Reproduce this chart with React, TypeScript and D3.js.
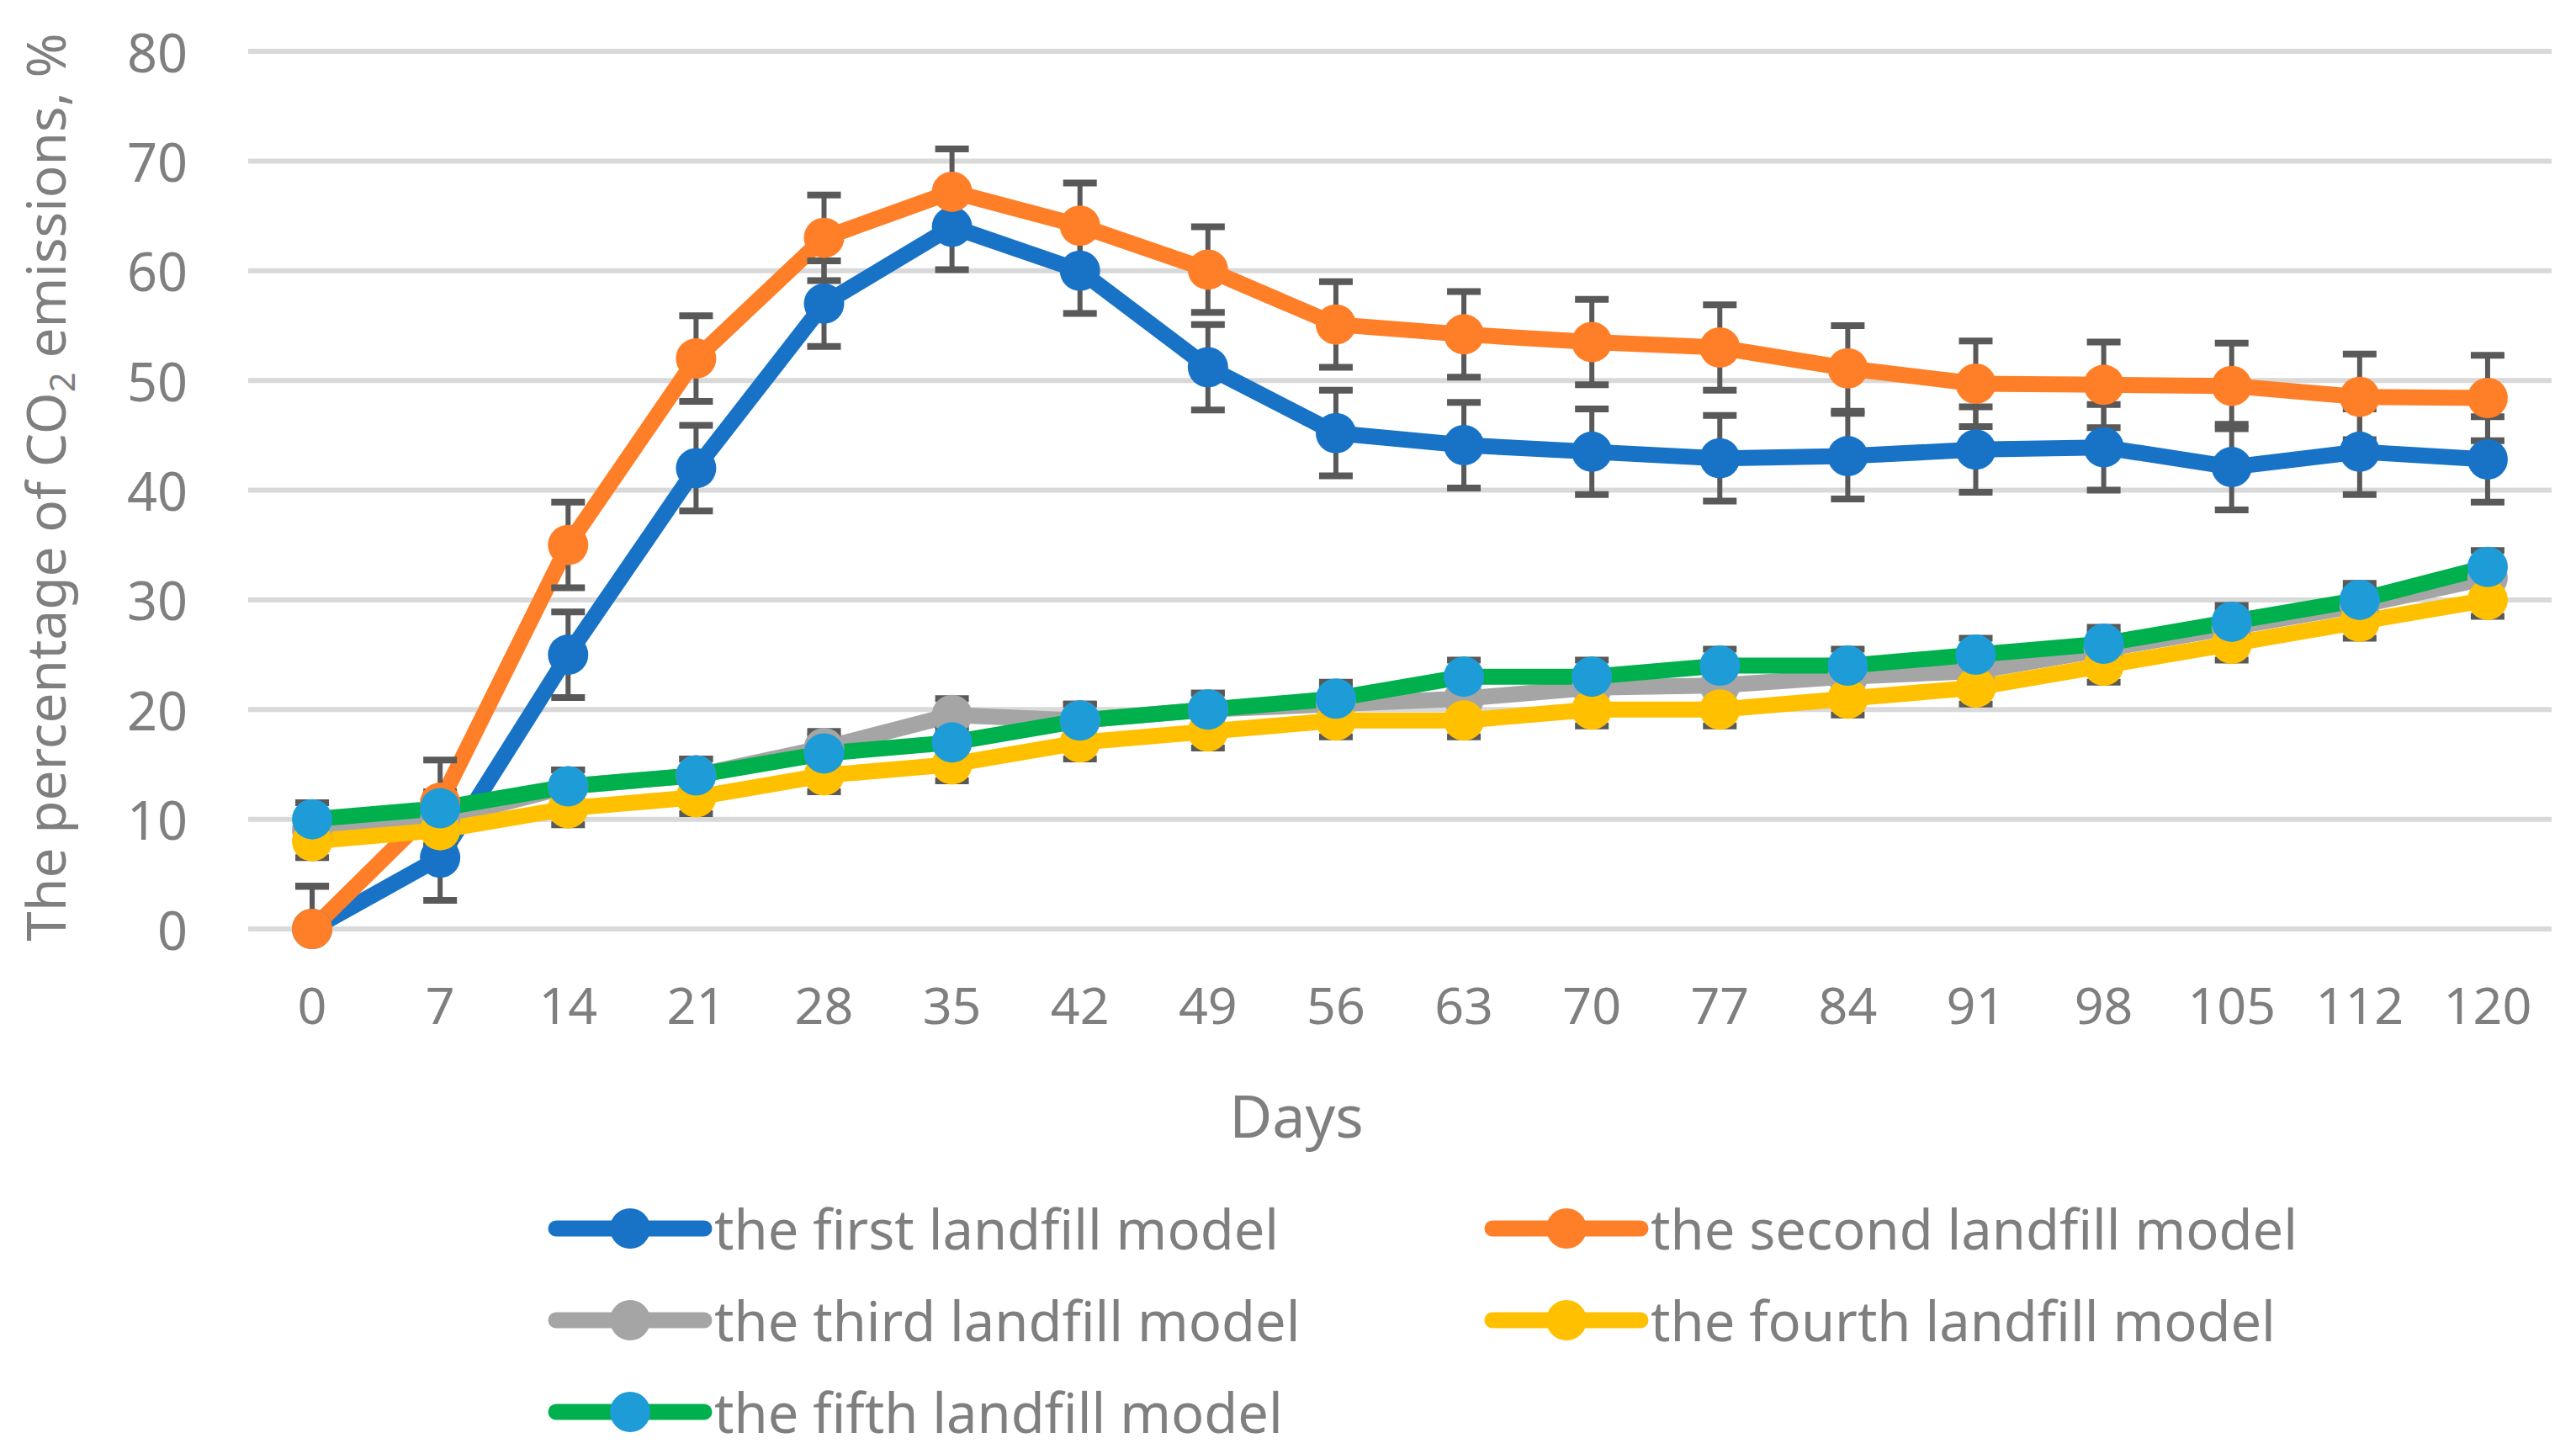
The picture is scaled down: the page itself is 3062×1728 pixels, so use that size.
import React from "react";
import * as d3 from "d3";

const days = [0, 7, 14, 21, 28, 35, 42, 49, 56, 63, 70, 77, 84, 91, 98, 105, 112, 120];

const firstModel = [0, 6.5, 25, 42, 57, 64, 60, 51.2, 45.2, 44.1, 43.5, 42.9, 43.1, 43.7, 43.9, 42.1, 43.5, 42.8];
const secondModel = [0, 11.5, 35, 52, 63, 67.2, 64.1, 60.1, 55.1, 54.2, 53.5, 53, 51.1, 49.7, 49.6, 49.5, 48.5, 48.4];
const thirdModel = [9, 10, 13, 14, 16.5, 19.5, 19, 20, 20.5, 21, 22, 22.2, 23, 23.5, 25.5, 27.5, 29.5, 32];
const fourthModel = [8, 9, 11, 12, 14, 15, 17, 18, 19, 19, 20, 20, 21, 22, 24, 26, 28, 30];
const fifthModel = [10, 11, 13, 14, 16, 17, 19, 20, 21, 23, 23, 24, 24, 25, 26, 28, 30, 33];

const firstErr = 3.9;
const secondErr = 3.9;
const smallErr = 1.5;

const yTicks = [0, 10, 20, 30, 40, 50, 60, 70, 80];

const series = [
  { name: "the first landfill model", values: firstModel, err: firstErr, line: "#1873c7", marker: "#1873c7" },
  { name: "the second landfill model", values: secondModel, err: secondErr, line: "#fe7f27", marker: "#fe7f27" },
  { name: "the third landfill model", values: thirdModel, err: smallErr, line: "#a5a5a5", marker: "#a5a5a5" },
  { name: "the fourth landfill model", values: fourthModel, err: smallErr, line: "#ffc000", marker: "#ffc000" },
  { name: "the fifth landfill model", values: fifthModel, err: smallErr, line: "#00b04c", marker: "#1e9cd8" },
];

const W = 3062;
const H = 1728;
const font = "'Noto Sans', sans-serif";
const textColor = "#7f7f7f";

export default function App() {
  const x = d3.scalePoint<string>().domain(days.map(String)).range([295, 3033]).padding(0.5);
  const y = d3.scaleLinear().domain([0, 80]).range([1104, 61]);
  const line = d3
    .line<number>()
    .x((_, i) => x(String(days[i]))!)
    .y((v) => y(v));

  const capHalf = 20;
  const legendPos = [
    [661, 1460],
    [1774, 1460],
    [661, 1569],
    [1774, 1569],
    [661, 1678],
  ];

  return (
    <svg width={W} height={H} style={{ position: "absolute", left: 0, top: 0, background: "#fff" }}>
      {/* gridlines */}
      {yTicks.map((t) => (
        <line key={"g" + t} x1={295} x2={3033} y1={y(t)} y2={y(t)} stroke="#d9d9d9" strokeWidth={6} />
      ))}
      {/* y tick labels */}
      {yTicks.map((t) => (
        <text key={"yt" + t} x={223} y={y(t)} textAnchor="end" dominantBaseline="central" fontFamily={font} fontSize={63} fill={textColor}>
          {t}
        </text>
      ))}
      {/* x tick labels */}
      {days.map((d) => (
        <text key={"xt" + d} x={x(String(d))} y={1217} textAnchor="middle" fontFamily={font} fontSize={61} fill={textColor}>
          {d}
        </text>
      ))}
      <text x={1541} y={1352} textAnchor="middle" fontFamily={font} fontSize={70} fill={textColor}>
        Days
      </text>
      <text transform={`translate(78,579) rotate(-90)`} textAnchor="middle" fontFamily={font} fontSize={64} fill={textColor}>
        The percentage of CO<tspan fontSize={42} dy={11}>2</tspan>
        <tspan dy={-11}> emissions, %</tspan>
      </text>

      {/* lines */}
      {series.map((s) => (
        <path key={"l" + s.name} d={line(s.values)!} fill="none" stroke={s.line} strokeWidth={19} strokeLinejoin="round" strokeLinecap="round" />
      ))}
      {/* error bars */}
      {series.map((s) => (
        <g key={"e" + s.name} stroke="#595959" strokeWidth={8}>
          {s.values.map((v, i) => {
            const cx = x(String(days[i]))!;
            return (
              <g key={i}>
                <line x1={cx} x2={cx} y1={y(v + s.err)} y2={y(Math.max(0, v - s.err))} strokeWidth={6} />
                <line x1={cx - capHalf} x2={cx + capHalf} y1={y(v + s.err)} y2={y(v + s.err)} />
                {v - s.err > 0 && <line x1={cx - capHalf} x2={cx + capHalf} y1={y(v - s.err)} y2={y(v - s.err)} />}
              </g>
            );
          })}
        </g>
      ))}
      {/* markers */}
      {series.map((s) => (
        <g key={"m" + s.name} fill={s.marker}>
          {s.values.map((v, i) => (
            <circle key={i} cx={x(String(days[i]))} cy={y(v)} r={24} />
          ))}
        </g>
      ))}

      {/* legend */}
      {series.map((s, i) => {
        const [lx, ly] = legendPos[i];
        return (
          <g key={"lg" + s.name}>
            <line x1={lx} x2={lx + 176} y1={ly} y2={ly} stroke={s.line} strokeWidth={19} strokeLinecap="round" />
            <circle cx={lx + 88} cy={ly} r={24} fill={s.marker} />
            <text x={lx + 188} y={ly} dominantBaseline="central" fontFamily={font} fontSize={65} fill={textColor}>
              {s.name}
            </text>
          </g>
        );
      })}
    </svg>
  );
}
